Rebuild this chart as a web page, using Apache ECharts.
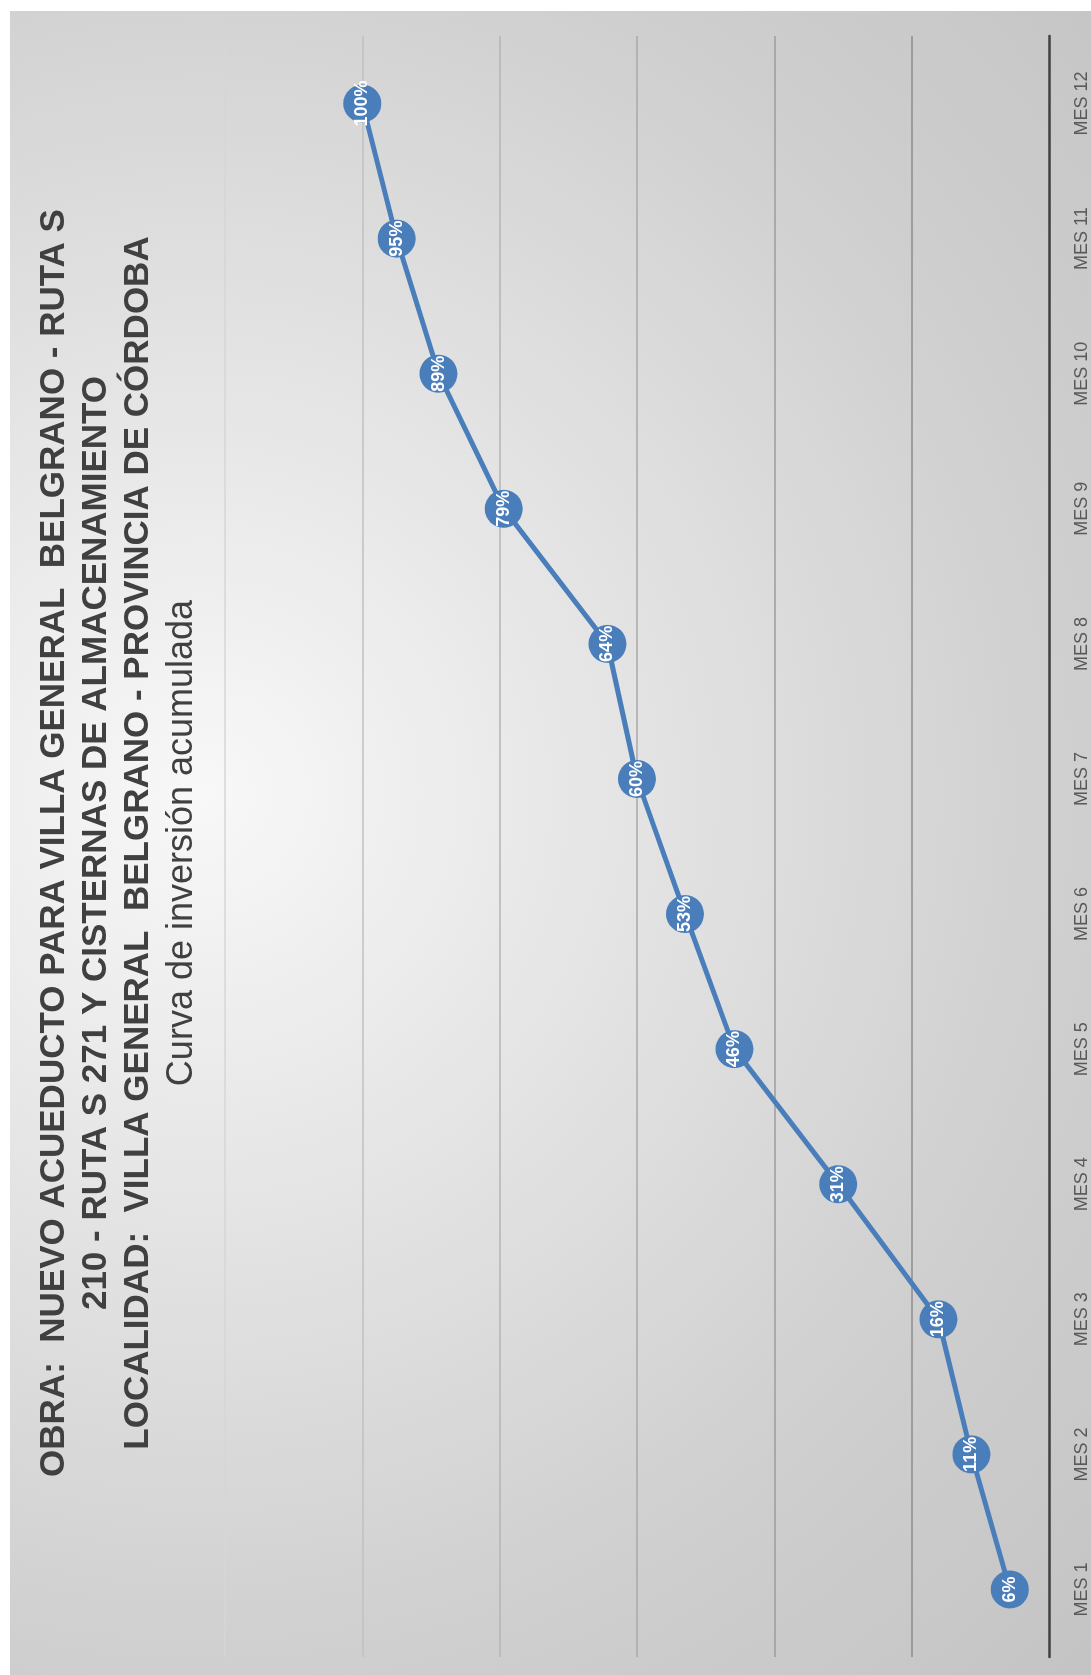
<!DOCTYPE html>
<html>
<head>
<meta charset="utf-8">
<script src="https://cdn.jsdelivr.net/npm/echarts@6/dist/echarts.min.js"></script>
<style>
html, body { margin: 0; padding: 0; background: #ffffff; overflow: hidden; width: 1091px; height: 1675px; }
#chart {
  position: absolute; left: 10px; top: 1675px;
  width: 1664px; height: 1081px;
  transform-origin: 0 0; transform: rotate(-90deg);
}
</style>
</head>
<body>
<div id="chart"></div>
<script>
const categories = ['MES 1', 'MES 2', 'MES 3', 'MES 4', 'MES 5', 'MES 6', 'MES 7', 'MES 8', 'MES 9', 'MES 10', 'MES 11', 'MES 12'];
const values = [5.7, 11.3, 16.1, 30.7, 45.8, 53.0, 60.0, 64.3, 79.4, 88.9, 95.0, 100];
const titleLines = [
  'OBRA:  NUEVO ACUEDUCTO PARA VILLA GENERAL  BELGRANO - RUTA S',
  '210 - RUTA S 271 Y CISTERNAS DE ALMACENAMIENTO',
  'LOCALIDAD:  VILLA GENERAL  BELGRANO - PROVINCIA DE CÓRDOBA'
];
const subtitle = 'Curva de inversión acumulada';
const valueMin = 0, valueMax = 120, valueStep = 20;

const chart = echarts.init(document.getElementById('chart'), null, { renderer: 'canvas' });
chart.setOption({
  backgroundColor: {
    type: 'radial', x: 0.53, y: 0.18, r: 1.15,
    colorStops: [
      { offset: 0, color: '#f8f8f8' },
      { offset: 0.7, color: '#cfcfcf' },
      { offset: 1, color: '#c4c4c4' }
    ]
  },
  animation: false,
  title: {
    text: titleLines.join('\n'),
    subtext: subtitle,
    left: 'center',
    top: 18,
    itemGap: 2,
    textStyle: { fontFamily: 'Liberation Sans', fontSize: 35, fontWeight: 'bold', color: '#404040', lineHeight: 42 },
    subtextStyle: { fontFamily: 'Liberation Sans', fontSize: 36, fontWeight: 'normal', color: '#404040', lineHeight: 42 }
  },
  grid: { left: 18, right: 25, top: 215, bottom: 42, containLabel: false },
  xAxis: {
    type: 'category',
    data: categories,
    boundaryGap: true,
    axisLine: { show: true, lineStyle: { color: '#404040', width: 2.5 } },
    axisTick: { show: false },
    axisLabel: { margin: 24, fontFamily: 'Liberation Sans Narrow, Liberation Sans', fontSize: 18, color: '#595959' }
  },
  yAxis: {
    type: 'value',
    min: valueMin, max: valueMax, interval: valueStep,
    axisLine: { show: false },
    axisTick: { show: false },
    axisLabel: { show: false },
    splitLine: { show: true, lineStyle: { width: 1.5, color: ['rgba(0,0,0,0)', '#8c8c8c', '#9c9c9c', '#a8a8a8', '#b4b4b4', '#c0c0c0', '#d6d6d6'] } }
  },
  series: [{
    type: 'line',
    data: values,
    symbol: 'circle',
    symbolSize: 38,
    lineStyle: { color: '#4a7ebb', width: 5 },
    itemStyle: { color: '#4a7ebb' },
    label: {
      show: true, position: 'inside',
      formatter: p => Math.round(p.value) + '%',
      fontFamily: 'Liberation Sans', fontSize: 18, fontWeight: 'bold', color: '#ffffff'
    },
    z: 3
  }]
});
</script>
</body>
</html>
